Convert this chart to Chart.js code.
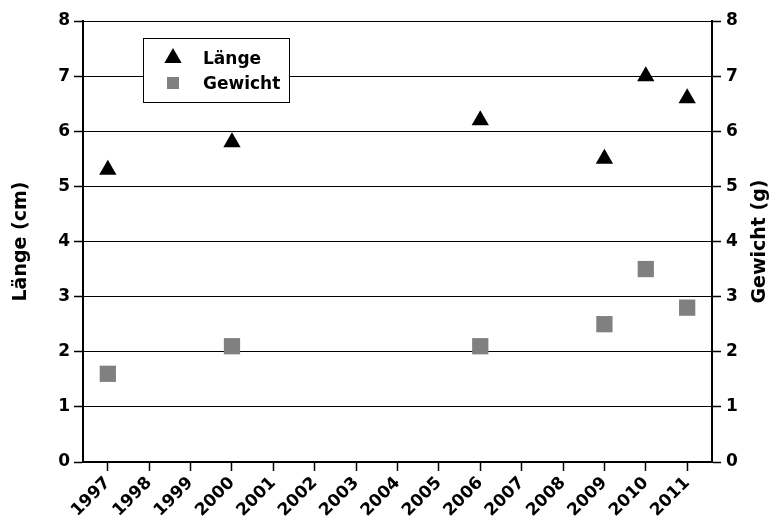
<!DOCTYPE html>
<html>
<head>
<meta charset="utf-8">
<script src="https://cdn.jsdelivr.net/npm/chart.js@4/dist/chart.umd.min.js"></script>
<style>
  html, body { margin: 0; padding: 0; background: #fff; }
  canvas { display: block; }
</style>
</head>
<body>
<canvas id="chart" width="779" height="518"></canvas>
<script>
// Years shown on the x axis
const years = [1997, 1998, 1999, 2000, 2001, 2002, 2003, 2004, 2005, 2006, 2007, 2008, 2009, 2010, 2011];
// Years with measurements
const sampleYears = [1997, 2000, 2006, 2009, 2010, 2011];
// Länge in cm
const laenge = [5.3, 5.8, 6.2, 5.5, 7.0, 6.6];
// Gewicht in g
const gewicht = [1.6, 2.1, 2.1, 2.5, 3.5, 2.8];

const FONT = "'DejaVu Sans', 'Liberation Sans', Arial, sans-serif";
const GRAY = '#808080';

const toPoints = (xs, ys) => xs.map((x, i) => ({ x: x, y: ys[i] }));

// Boxed legend inside the plot area
const boxLegend = {
  id: 'boxLegend',
  afterDraw(chart) {
    const ctx = chart.ctx;
    ctx.save();
    ctx.strokeStyle = '#000';
    ctx.lineWidth = 1;
    ctx.fillStyle = '#fff';
    ctx.fillRect(143.5, 38.5, 146, 64);
    ctx.strokeRect(143.5, 38.5, 146, 64);

    const ds = chart.data.datasets;
    // triangle marker
    const tx = 173, ty = 58, r = 10;
    ctx.fillStyle = ds[0].backgroundColor;
    ctx.beginPath();
    for (let k = 0; k < 3; k++) {
      const a = k * 2 * Math.PI / 3;
      const px = tx + Math.sin(a) * r, py = ty - Math.cos(a) * r;
      if (k === 0) ctx.moveTo(px, py); else ctx.lineTo(px, py);
    }
    ctx.closePath();
    ctx.fill();
    // square marker
    ctx.fillStyle = ds[1].backgroundColor;
    ctx.fillRect(167, 77, 12, 12);

    ctx.fillStyle = '#000';
    ctx.font = 'bold 17px ' + FONT;
    ctx.textAlign = 'left';
    ctx.textBaseline = 'alphabetic';
    ctx.fillText(ds[0].label, 203, 64);
    ctx.fillText(ds[1].label, 203, 89);
    ctx.restore();
  }
};

// Title of the right axis, reading bottom to top
const rightTitle = {
  id: 'rightTitle',
  afterDraw(chart) {
    const ctx = chart.ctx;
    const area = chart.chartArea;
    ctx.save();
    ctx.translate(760, (area.top + area.bottom) / 2);
    ctx.rotate(-Math.PI / 2);
    ctx.fillStyle = '#000';
    ctx.font = 'bold 19px ' + FONT;
    ctx.textAlign = 'center';
    ctx.textBaseline = 'middle';
    ctx.fillText('Gewicht (g)', 0, 0);
    ctx.restore();
  }
};

new Chart(document.getElementById('chart'), {
  type: 'scatter',
  data: {
    datasets: [
      {
        label: 'Länge',
        data: toPoints(sampleYears, laenge),
        yAxisID: 'y',
        pointStyle: 'triangle',
        pointRadius: 10,
        pointHoverRadius: 10,
        backgroundColor: '#000',
        borderWidth: 0
      },
      {
        label: 'Gewicht',
        data: toPoints(sampleYears, gewicht),
        yAxisID: 'y2',
        pointStyle: 'rect',
        pointRadius: 11.5,
        pointHoverRadius: 11.5,
        backgroundColor: GRAY,
        borderWidth: 0
      }
    ]
  },
  options: {
    responsive: false,
    animation: false,
    layout: { padding: { top: 21, left: 0, right: 0, bottom: 0 } },
    plugins: {
      legend: { display: false },
      tooltip: { enabled: false }
    },
    scales: {
      x: {
        type: 'linear',
        min: 1996.4,
        max: 2011.6,
        afterBuildTicks: s => { s.ticks = years.map(v => ({ value: v })); },
        afterFit: s => { s.height = 56; },
        grid: { drawOnChartArea: false, drawTicks: true, tickLength: 9, color: '#000', tickWidth: 1.5 },
        border: { display: true, color: '#000', width: 2 },
        ticks: {
          autoSkip: false,
          minRotation: 45,
          maxRotation: 45,
          padding: 2,
          color: '#000',
          font: { family: FONT, size: 17, weight: 'bold' },
          callback: v => String(v)
        }
      },
      y: {
        position: 'left',
        min: 0,
        max: 8,
        afterFit: s => { s.width = 83; },
        grid: { color: '#000', lineWidth: 1, tickLength: 9, tickWidth: 1.5 },
        border: { display: true, color: '#000', width: 2 },
        ticks: {
          stepSize: 1,
          padding: 4,
          color: '#000',
          font: { family: FONT, size: 17, weight: 'bold' }
        },
        title: {
          display: true,
          text: 'Länge (cm)',
          color: '#000',
          font: { family: FONT, size: 19, weight: 'bold' },
          padding: { top: 10, bottom: 0 }
        }
      },
      y2: {
        position: 'right',
        min: 0,
        max: 8,
        afterFit: s => { s.width = 67; },
        grid: { drawOnChartArea: false, color: '#000', tickLength: 9, tickWidth: 1.5 },
        border: { display: true, color: '#000', width: 2 },
        ticks: {
          stepSize: 1,
          padding: 5,
          color: '#000',
          font: { family: FONT, size: 17, weight: 'bold' }
        }
      }
    }
  },
  plugins: [boxLegend, rightTitle]
});
</script>
</body>
</html>
